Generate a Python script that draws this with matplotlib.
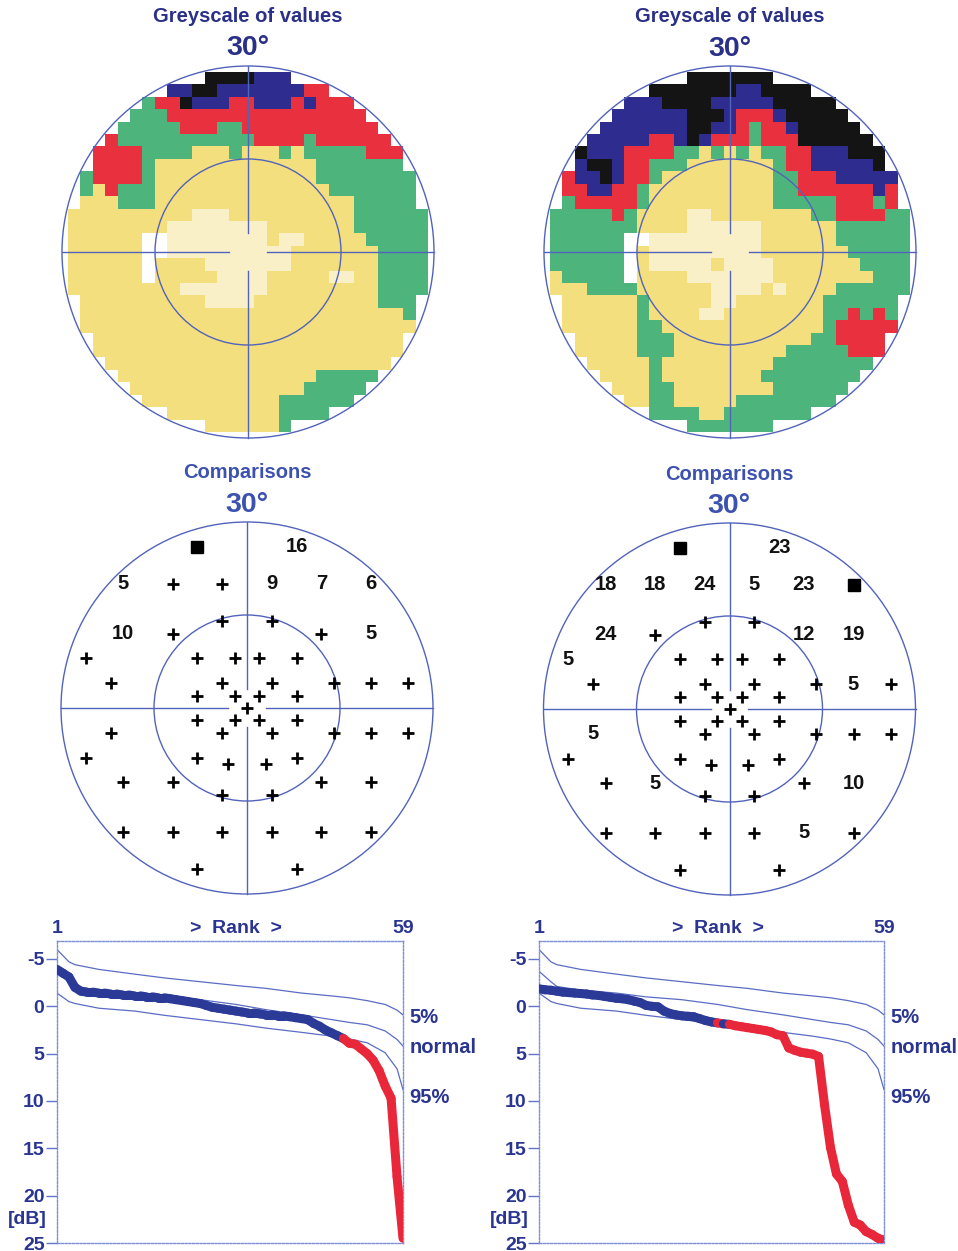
import re
import numpy as np
import matplotlib
matplotlib.use("Agg")
import matplotlib.pyplot as plt
from matplotlib.colors import ListedColormap
from matplotlib.patches import Circle
from matplotlib.transforms import blended_transform_factory

plt.rcParams['font.family'] = ['Liberation Sans', 'DejaVu Sans']

W, H = 958, 1251
PX = 6.2            # pixels per degree on the round maps
NAVY = '#2a3088'
LIGHTNAVY = '#3d52b0'
LINE = '#5263bb'
BLUE = '#2b3a97'
RED = '#e8283a'

# greyscale of values: 2 deg cells, one run-length row per line, top row first
CODES = 'KBRGYLW'
CELL_COLORS = ['#141414', '#2f2c8f', '#e8303f', '#4db57c', '#f3df7d', '#faf0c8', '#ffffff']

grey_left = [
    "4K3B",
    "2B2K7B2R",
    "1G2R1K3B2R3B1R1B3R",
    "3G16R",
    "5G3R2G11R",
    "1R11G4R1G6R",
    "4R4G3Y1G3Y1G1Y5G3R",
    "4R1G13Y7G",
    "1G4R1G13Y8G",
    "1G1Y1R3G14Y7G",
    "3Y3G16Y5G",
    "10Y3L10Y6G",
    "8Y8L7Y6G",
    "6Y2W8L1Y2L5Y5G",
    "6Y2W10L7Y4G",
    "6Y1W4Y7L7Y4G",
    "6Y1W5Y4L5Y2L2Y4G",
    "9Y7L9Y4G",
    "10Y4L10Y3G",
    "26Y1G",
    "27Y",
    "25Y",
    "25Y",
    "23Y",
    "16Y5G",
    "14Y5G",
    "11Y6G",
    "9Y4G",
    "6Y1G",
]

grey_right = [
    "7K",
    "7K2B4K",
    "3B4K5B5K",
    "6B3K1B3R1B5K",
    "7B2K2B1R1G2R1B5K",
    "5B2R1B1K1B3R1G3R6K",
    "1K3B4R2G1Y1G1Y1G1Y2G2R3B3K",
    "1B2K1B2R3G7Y1G2R5B1K",
    "1R2B1K1B2R1G9Y2G3R5B",
    "2R2B2R1G10Y2G6R1B1R",
    "1G5R1G10Y5G3R1G1R",
    "5G1R1G4Y2L8Y2G4R2G",
    "7G4Y6L6Y6G",
    "6G2W9L6Y6G",
    "6G1W1Y9L7Y5G",
    "6G1W1Y5L1Y4L7Y4G",
    "1Y5G1W4Y7L8Y3G",
    "3Y4G6Y4L1Y1L4Y6G",
    "6Y1G5Y2L7Y6G",
    "6Y1G4Y2L8Y2G1R1G1R1G",
    "6Y2G13Y1G5R",
    "5Y3G11Y2G4R",
    "5Y3G9Y5G3R",
    "5Y1G9Y8G",
    "4Y1G8Y8G",
    "3Y2G8Y6G",
    "2Y2G5Y8G",
    "4G2Y7G",
    "7G",
]

# comparisons: test locations (deg) and printed value ('+' normal, 'S' square)
pts_x = [-8, 8,
         -20, -12, -4, 4, 12, 20,
         -4, 4,
         -20, -12, 12, 20,
         -26, -8, -2, 2, 8,
         -22, -4, 4, 14, 20, 26,
         -8, -2, 2, 8,
         0,
         -8, -2, 2, 8,
         -22, -4, 4, 14, 20, 26,
         -26, -8, 8,
         -3, 3,
         -20, -12, 12, 20,
         -4, 4,
         -20, -12, -4, 4, 12, 20,
         -8, 8]
pts_y = [26, 26,
         20, 20, 20, 20, 20, 20,
         14, 14,
         12, 12, 12, 12,
         8, 8, 8, 8, 8,
         4, 4, 4, 4, 4, 4,
         2, 2, 2, 2,
         0,
         -2, -2, -2, -2,
         -4, -4, -4, -4, -4, -4,
         -8, -8, -8,
         -9, -9,
         -12, -12, -12, -12,
         -14, -14,
         -20, -20, -20, -20, -20, -20,
         -26, -26]
cmp_left = ['S', '16',
            '5', '+', '+', '9', '7', '6',
            '+', '+',
            '10', '+', '+', '5',
            '+', '+', '+', '+', '+',
            '+', '+', '+', '+', '+', '+',
            '+', '+', '+', '+',
            '+',
            '+', '+', '+', '+',
            '+', '+', '+', '+', '+', '+',
            '+', '+', '+',
            '+', '+',
            '+', '+', '+', '+',
            '+', '+',
            '+', '+', '+', '+', '+', '+',
            '+', '+']
cmp_right = ['S', '23',
             '18', '18', '24', '5', '23', 'S',
             '+', '+',
             '24', '+', '12', '19',
             '5', '+', '+', '+', '+',
             '+', '+', '+', '+', '5', '+',
             '+', '+', '+', '+',
             '+',
             '+', '+', '+', '+',
             '5', '+', '+', '+', '+', '+',
             '+', '+', '+',
             '+', '+',
             '+', '5', '+', '10',
             '+', '+',
             '+', '+', '+', '+', '5', '+',
             '+', '+']

# rank curves (dB, rank 1..59)
rank_left = [-3.9, -3.5, -3.1, -2.0, -1.6, -1.5, -1.5, -1.4, -1.4, -1.3,
             -1.3, -1.2, -1.2, -1.1, -1.1, -1.0, -1.0, -0.9, -0.9, -0.8,
             -0.7, -0.6, -0.5, -0.4, -0.3, -0.1, 0.1, 0.2, 0.3, 0.4,
             0.5, 0.6, 0.7, 0.7, 0.8, 0.9, 0.9, 1.0, 1.0, 1.1,
             1.2, 1.3, 1.4, 1.8, 2.1, 2.5, 2.8, 3.1, 3.4, 3.9,
             4.0, 4.5, 5.0, 5.7, 6.8, 8.4, 9.7, 18.0, 24.5]
rank_right = [-1.85, -1.75, -1.7, -1.6, -1.5, -1.45, -1.4, -1.35, -1.3, -1.2,
              -1.15, -1.05, -0.95, -0.85, -0.8, -0.7, -0.55, -0.4, -0.1, 0.0,
              0.05, 0.5, 0.75, 0.9, 1.0, 1.05, 1.1, 1.3, 1.5, 1.65,
              1.75, 1.85, 1.9, 2.05, 2.15, 2.25, 2.35, 2.45, 2.55, 2.7,
              3.0, 3.1, 4.4, 4.65, 4.85, 4.95, 5.05, 5.3, 10.4, 14.9,
              17.7, 18.5, 21.0, 22.8, 23.1, 23.8, 24.1, 24.5, 24.7]
red_left = [50, 51, 52, 53, 54, 55, 56, 57, 58, 59]
red_right = [32, 34, 35, 36, 37, 38, 39, 40, 41, 42, 43, 44, 45, 46, 47,
             48, 49, 50, 51, 52, 53, 54, 55, 56, 57, 58, 59]

norm_rank = [1, 3, 4, 8, 14, 19, 25, 31, 36, 42, 47, 50, 53, 56, 58, 59]
lim_5 = [-6.0, -4.7, -4.4, -3.9, -3.4, -3.0, -2.6, -2.2, -1.9, -1.4, -1.1, -0.9, -0.6, -0.2, 0.4, 0.9]
lim_norm = [-3.7, -2.6, -2.1, -1.7, -1.4, -1.0, -0.7, -0.2, 0.35, 0.9, 1.4, 1.7, 1.95, 2.6, 3.5, 4.2]
lim_95 = [-1.4, -0.5, -0.3, 0.2, 0.5, 0.95, 1.4, 1.85, 2.3, 2.75, 3.15, 3.45, 3.85, 4.9, 6.6, 8.8]


def expand(rows):
    grid = np.full((29, 29), np.nan)
    for r, s in enumerate(rows):
        cells = ''.join(c * int(n) for n, c in re.findall(r'(\d+)([A-Z])', s))
        pad = (29 - len(cells)) // 2
        for k, c in enumerate(cells):
            grid[r, pad + k] = CODES.index(c)
    return grid


def round_axes(cx, cy):
    half = 32 * PX
    ax = fig.add_axes([(cx - half) / W, (H - cy - half) / H, 2 * half / W, 2 * half / H])
    ax.set_xlim(-32, 32)
    ax.set_ylim(-32, 32)
    ax.axis('off')
    return ax


def rings(ax):
    for r in (30, 15):
        ax.add_patch(Circle((0, 0), r, fill=False, ec=LINE, lw=1.0, zorder=4))
    for a, b in ((-30, -3), (3, 30)):
        ax.plot([a, b], [0, 0], color=LINE, lw=1.0, zorder=4)
        ax.plot([0, 0], [a, b], color=LINE, lw=1.0, zorder=4)


def titles(cx, y1, y2, text, color):
    fig.text(cx / W, 1 - y1 / H, text, ha='center', va='center',
             fontsize=14.5, weight='bold', color=color)
    fig.text(cx / W, 1 - y2 / H, '30°', ha='center', va='center',
             fontsize=20.5, weight='bold', color=color)


def grey_map(cx, cy, rows):
    ax = round_axes(cx, cy)
    cmap = ListedColormap(CELL_COLORS)
    ax.imshow(expand(rows), cmap=cmap, vmin=-0.5, vmax=6.5, origin='upper',
              extent=[-29, 29, -29, 29], interpolation='nearest', zorder=1)
    ax.set_xlim(-32, 32)
    ax.set_ylim(-32, 32)
    rings(ax)


def comparisons(cx, cy, vals):
    ax = round_axes(cx, cy)
    rings(ax)
    for x, y, v in zip(pts_x, pts_y, vals):
        if v == '+':
            ax.plot(x, y, marker='+', ms=8, mew=2.0, color='black', zorder=5)
        elif v == 'S':
            ax.plot(x, y, marker='s', ms=8, color='black', zorder=5)
        else:
            ax.text(x, y, v, ha='center', va='center', fontsize=14.5,
                    weight='bold', color='#111111', zorder=5)


def rank_plot(left, width, vals, reds):
    ax = fig.add_axes([left / W, 8 / H, width / W, 302 / H])
    ax.set_xlim(1, 59)
    ax.set_ylim(25, -6.9)
    for curve in (lim_5, lim_norm, lim_95):
        ax.plot(norm_rank, curve, color='#5a6cc4', lw=0.9, zorder=2)
    ranks = np.arange(1, 60)
    for k in range(58):
        col = RED if ranks[k + 1] in reds else BLUE
        ax.plot(ranks[k:k + 2], vals[k:k + 2], color=col, lw=6.5,
                solid_capstyle='round', zorder=3)
    for s in ax.spines.values():
        s.set_linestyle((0, (1.5, 1.2)))
        s.set_color('#7b8ed6')
        s.set_linewidth(1.0)
    ax.set_xticks([])
    ax.set_yticks([-5, 0, 5, 10, 15, 20, 25])
    ax.set_yticklabels(['-5', '0', '5', '10', '15', '20', '25'])
    ax.tick_params(axis='y', direction='out', length=8, width=1, color='#6275c8',
                   labelcolor='#2a3592', labelsize=14, pad=1)
    for t in ax.get_yticklabels():
        t.set_fontweight('bold')
    xt = ax.get_xaxis_transform()
    for x, s in ((1, '1'), (59, '59'), (31, '>  Rank  >')):
        ax.text(x, 1.012, s, transform=xt, ha='center', va='bottom',
                fontsize=14, weight='bold', color='#2a3592')
    yt = ax.get_yaxis_transform()
    ax.text(-0.085, 22.5, '[dB]', transform=yt, ha='center', va='center',
            fontsize=14, weight='bold', color='#2a3592')
    bt = blended_transform_factory(ax.transAxes, ax.transData)
    for y, s in ((1.2, '5%'), (4.3, 'normal'), (9.6, '95%')):
        ax.text(1.018, y, s, transform=bt, ha='left', va='center',
                fontsize=14.5, weight='bold', color='#2a3592', clip_on=False)


fig = plt.figure(figsize=(W / 100, H / 100), dpi=100)
fig.patch.set_facecolor('white')

titles(248, 16, 48, 'Greyscale of values', NAVY)
titles(730, 17, 49, 'Greyscale of values', NAVY)
grey_map(248, 252, grey_left)
grey_map(730, 252, grey_right)

titles(247, 473, 505, 'Comparisons', LIGHTNAVY)
titles(729, 474, 506, 'Comparisons', LIGHTNAVY)
comparisons(247, 708, cmp_left)
comparisons(729.5, 709, cmp_right)

rank_plot(57, 346, rank_left, red_left)
rank_plot(539, 345, rank_right, red_right)

fig.savefig('out.png', dpi=100, facecolor='white')
